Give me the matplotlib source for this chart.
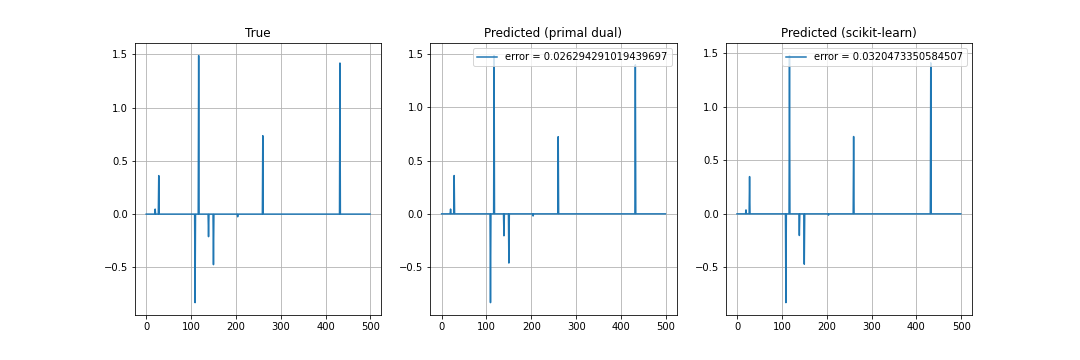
import numpy as np
import matplotlib
matplotlib.use("Agg")
import matplotlib.pyplot as plt

# signal length and positions of the non-zero coefficients
n_samples = 500
spike_idx = [20, 28, 109, 117, 139, 150, 204, 260, 432]

true_vals = [0.047, 0.362, -0.832, 1.49, -0.212, -0.475, -0.025, 0.737, 1.42]
pd_vals = [0.045, 0.36, -0.834, 1.487, -0.206, -0.462, -0.02, 0.725, 1.40]
sk_vals = [0.037, 0.348, -0.829, 1.478, -0.202, -0.47, -0.012, 0.722, 1.41]

titles = ["True", "Predicted (primal dual)", "Predicted (scikit-learn)"]
labels = [None, "error = 0.026294291019439697", "error = 0.0320473350584507"]


def build_signal(vals):
    x = np.zeros(n_samples)
    x[spike_idx] = vals
    return x


fig, axes = plt.subplots(1, 3, figsize=(15, 5), dpi=72)
fig.subplots_adjust(bottom=0.125, top=0.88)
for ax, vals, title, label in zip(axes, [true_vals, pd_vals, sk_vals], titles, labels):
    ax.plot(build_signal(vals), label=label)
    ax.set_title(title)
    ax.grid(True)
    if label:
        ax.legend(loc="upper right")

fig.savefig("out.png", dpi=72)
